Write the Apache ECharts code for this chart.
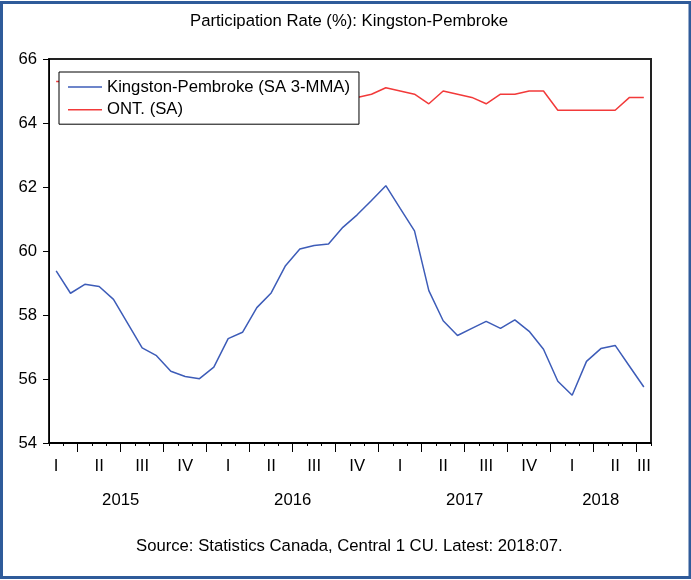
<!DOCTYPE html>
<html>
<head>
<meta charset="utf-8">
<script src="https://cdn.jsdelivr.net/npm/echarts@6/dist/echarts.min.js"></script>
<style>
html,body{margin:0;padding:0;background:#fff;}
#chart{width:691px;height:580px;}
</style>
</head>
<body>
<div id="chart"></div>
<script>
// ---- data ----
const months = [
  '2015-02','2015-03','2015-04','2015-05','2015-06','2015-07','2015-08','2015-09','2015-10','2015-11','2015-12',
  '2016-01','2016-02','2016-03','2016-04','2016-05','2016-06','2016-07','2016-08','2016-09','2016-10','2016-11','2016-12',
  '2017-01','2017-02','2017-03','2017-04','2017-05','2017-06','2017-07','2017-08','2017-09','2017-10','2017-11','2017-12',
  '2018-01','2018-02','2018-03','2018-04','2018-05','2018-06','2018-07'
];
const kingston = [
  59.38, 58.68, 58.96, 58.89, 58.49, 57.73, 56.97, 56.73, 56.24, 56.08, 56.01,
  56.37, 57.26, 57.46, 58.23, 58.69, 59.54, 60.06, 60.17, 60.22, 60.74, 61.13, 61.58,
  62.04, 61.33, 60.63, 58.76, 57.82, 57.36, 57.58, 57.80, 57.58, 57.85, 57.49, 56.93,
  55.93, 55.49, 56.55, 56.95, 57.05, 56.40, 55.75
];
const ontario = [
  65.3, 65.3, 65.2, 65.2, 65.1, 65.1, 65.0, 65.1, 65.2, 65.0, 65.0,
  65.0, 64.9, 64.8, 64.7, 64.7, 64.8, 64.6, 64.8, 64.9, 64.8, 64.8, 64.9,
  65.1, 65.0, 64.9, 64.6, 65.0, 64.9, 64.8, 64.6, 64.9, 64.9, 65.0, 65.0,
  64.4, 64.4, 64.4, 64.4, 64.4, 64.8, 64.8
];
const seriesNames = ['Kingston-Pembroke (SA 3-MMA)', 'ONT. (SA)'];
const quarterNames = ['I', 'II', 'III', 'IV'];
const yTicks = {min: 54, max: 66, step: 2};
const titleText = 'Participation Rate (%): Kingston-Pembroke';
const sourceText = 'Source: Statistics Canada, Central 1 CU. Latest: 2018:07.';

// ---- helpers derived from categories ----
const monthNum = m => +m.slice(5);
const boundaries = Array.from({length: months.length + 1}, (_, i) => String(i));
const yearCenters = {};
(function () {
  const spans = {};
  months.forEach((m, i) => {
    const y = m.slice(0, 4);
    if (!spans[y]) spans[y] = {jan: i - (monthNum(m) - 1), end: i + 1};
    spans[y].end = i + 1;
  });
  Object.keys(spans).forEach(y => {
    const c = Math.round((spans[y].jan + spans[y].end)) / 2;
    yearCenters[c] = y;
  });
})();

const FONT = 'Liberation Sans, Arial, sans-serif';
const FS = 16.7;
const BLUE = '#3d5cb8';
const RED = '#f23a3a';

const chart = echarts.init(document.getElementById('chart'), null, {renderer: 'canvas'});
chart.setOption({
  animation: false,
  backgroundColor: '#ffffff',
  title: [
    {text: titleText, left: 190, top: 13, padding: 0,
     textStyle: {fontFamily: FONT, fontSize: FS, fontWeight: 'normal', color: '#000'}},
    {text: sourceText, left: 136, top: 538, padding: 0,
     textStyle: {fontFamily: FONT, fontSize: FS, fontWeight: 'normal', color: '#000'}}
  ],
  graphic: [{
    type: 'rect', silent: true, z: 100,
    shape: {x: 1.5, y: 2.5, width: 688.5, height: 575},
    style: {fill: 'none', stroke: '#2f5b9a', lineWidth: 3}
  }],
  legend: {
    left: 59, top: 72, orient: 'vertical',
    backgroundColor: '#fff', borderColor: '#000', borderWidth: 1, borderRadius: 0,
    padding: [6.5, 9, 6, 9],
    icon: 'rect',
    itemWidth: 34, itemHeight: 1.5, itemGap: 5.7,
    textStyle: {fontFamily: FONT, fontSize: FS, color: '#000', lineHeight: 17},
    data: [
      {name: seriesNames[0], itemStyle: {color: BLUE}},
      {name: seriesNames[1], itemStyle: {color: RED}}
    ],
    z: 10
  },
  grid: {left: 49, top: 59, right: 40, bottom: 137, show: true,
         borderColor: '#222', borderWidth: 2, backgroundColor: '#fff'},
  xAxis: [
    {
      type: 'category', data: months, boundaryGap: true, position: 'bottom',
      axisLine: {show: true, lineStyle: {color: '#000', width: 2}},
      axisTick: {show: true, interval: 0, length: 3, lineStyle: {color: '#000', width: 1}},
      axisLabel: {
        show: true, margin: 15, color: '#000', fontFamily: FONT, fontSize: FS,
        interval: (i, v) => [2, 5, 8, 11].includes(monthNum(v)) || i === months.length - 1,
        formatter: v => quarterNames[Math.ceil(monthNum(v) / 3) - 1]
      },
      splitLine: {show: false}
    },
    {
      type: 'category', data: boundaries, boundaryGap: false, position: 'bottom',
      axisLine: {show: false},
      axisTick: {show: true, length: 9, lineStyle: {color: '#000', width: 1},
        interval: (i) => i < months.length && [1, 4, 7, 10].includes(monthNum(months[i]))},
      axisLabel: {show: false},
      splitLine: {show: false}
    },
    {
      type: 'value', min: 0, max: months.length, interval: 0.5, position: 'bottom',
      axisLine: {show: false}, axisTick: {show: false}, splitLine: {show: false},
      axisLabel: {show: true, margin: 49, color: '#000', fontFamily: FONT, fontSize: FS,
        showMinLabel: true, showMaxLabel: true,
        formatter: v => yearCenters[v] || ''}
    }
  ],
  yAxis: {
    type: 'value', min: yTicks.min, max: yTicks.max, interval: yTicks.step,
    axisLine: {show: true, lineStyle: {color: '#000', width: 1}},
    axisTick: {show: true, length: 6, lineStyle: {color: '#000'}},
    axisLabel: {margin: 12, color: '#000', fontFamily: FONT, fontSize: FS},
    splitLine: {show: false}
  },
  series: [
    {name: seriesNames[0], type: 'line', data: kingston, xAxisIndex: 0, symbol: 'none',
     lineStyle: {color: BLUE, width: 1.5}, itemStyle: {color: BLUE}, z: 3},
    {name: seriesNames[1], type: 'line', data: ontario, xAxisIndex: 0, symbol: 'none',
     lineStyle: {color: RED, width: 1.5}, itemStyle: {color: RED}, z: 2}
  ]
});
</script>
</body>
</html>
